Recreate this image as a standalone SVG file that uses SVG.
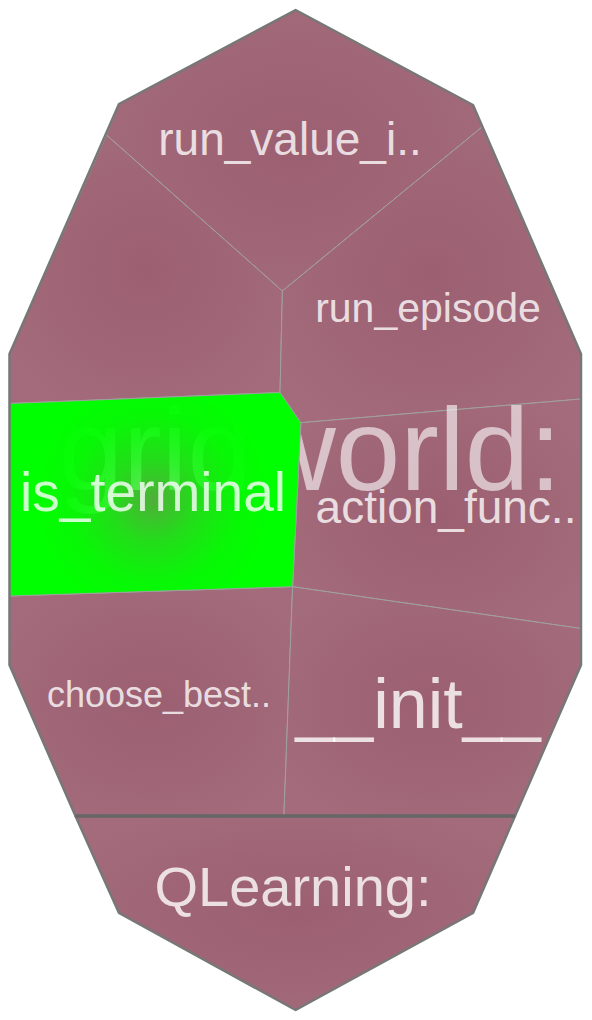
<svg xmlns="http://www.w3.org/2000/svg" width="592" height="1020" viewBox="0 0 592 1020">
<defs>
<radialGradient id="mauve" cx="0.5" cy="0.5" r="0.6">
<stop offset="0" stop-color="#9b5f71"/>
<stop offset="1" stop-color="#a36b7b"/>
</radialGradient>
<radialGradient id="green" gradientUnits="userSpaceOnUse" cx="153" cy="500" r="120">
<stop offset="0" stop-color="#00ff00" stop-opacity="0.5"/>
<stop offset="0.35" stop-color="#00ff00" stop-opacity="0.78"/>
<stop offset="0.7" stop-color="#00ff00" stop-opacity="0.95"/>
<stop offset="1" stop-color="#00ff00" stop-opacity="1"/>
</radialGradient>
<style>
.cell{fill:url(#mauve);stroke:#a0a0a0;stroke-width:1}
.lbl{font-family:"Liberation Sans",Arial,sans-serif;fill:#ffffff;fill-opacity:0.8;text-anchor:middle}
.big{font-family:"Liberation Sans",Arial,sans-serif;fill:#ffffff;fill-opacity:0.6;text-anchor:middle}
.hull{fill:none;stroke:#777777;stroke-width:2.5;stroke-linejoin:round}
</style>
</defs>
<rect width="592" height="1020" fill="#ffffff"/>
<g id="gridworld">
<g id="run_value_iteration"><polygon class="cell" points="119,104 295.6,10 473,105 482,127 282.4,291 106.5,135"/></g>
<g id="unnamed_cell"><polygon class="cell" points="106.5,135 282.4,291 280,392.5 9.5,403.5 9.5,354"/></g>
<g id="run_episode"><polygon class="cell" points="282.4,291 482,127 581,354 581,399 300.9,422.7 280,392.5"/></g>
<g id="action_func"><polygon class="cell" points="300.9,422.7 581,399 581,628.5 292.6,586.7"/></g>
<g id="choose_best"><polygon class="cell" points="9.5,596 292.6,586.7 283.9,816 75.5,816 9.5,665"/></g>
<g id="init"><polygon class="cell" points="292.6,586.7 581,628.5 581,665 515,816 283.9,816"/></g>
<g id="is_terminal_base"><polygon points="9.5,403.5 280,392.5 300.9,422.7 292.6,586.7 9.5,596" fill="url(#mauve)"/></g>
<text class="big" x="310" y="490" font-size="116">gridworld:</text>
<g id="is_terminal">
<polygon points="9.5,403.5 280,392.5 300.9,422.7 292.6,586.7 9.5,596" fill="url(#green)" stroke="#a0a0a0" stroke-width="1"/>
<text class="lbl" x="153" y="511" font-size="55" fill-opacity="0.88">is_terminal</text>
</g>
<text class="lbl" x="290" y="155" font-size="46">run_value_i..</text>
<text class="lbl" x="428" y="322" font-size="41">run_episode</text>
<text class="lbl" x="446" y="523" font-size="46">action_func..</text>
<text class="lbl" x="159" y="707" font-size="36">choose_best..</text>
<text class="lbl" x="418" y="728" font-size="70">__init__</text>
<polygon class="hull" points="295.6,10 473,105 581,354 581,665 515,816 75.5,816 9.5,665 9.5,354 119,104"/>
</g>
<g id="QLearning">
<polygon class="cell" points="75.5,816 515,816 473,913 295.6,1010 119,913" stroke="none"/>
<text class="lbl" x="293" y="906" font-size="56">QLearning:</text>
<polygon class="hull" points="75.5,816 515,816 473,913 295.6,1010 119,913"/>
</g>
<line x1="75.5" y1="816" x2="515" y2="816" stroke="#666666" stroke-width="3.5"/>
</svg>
